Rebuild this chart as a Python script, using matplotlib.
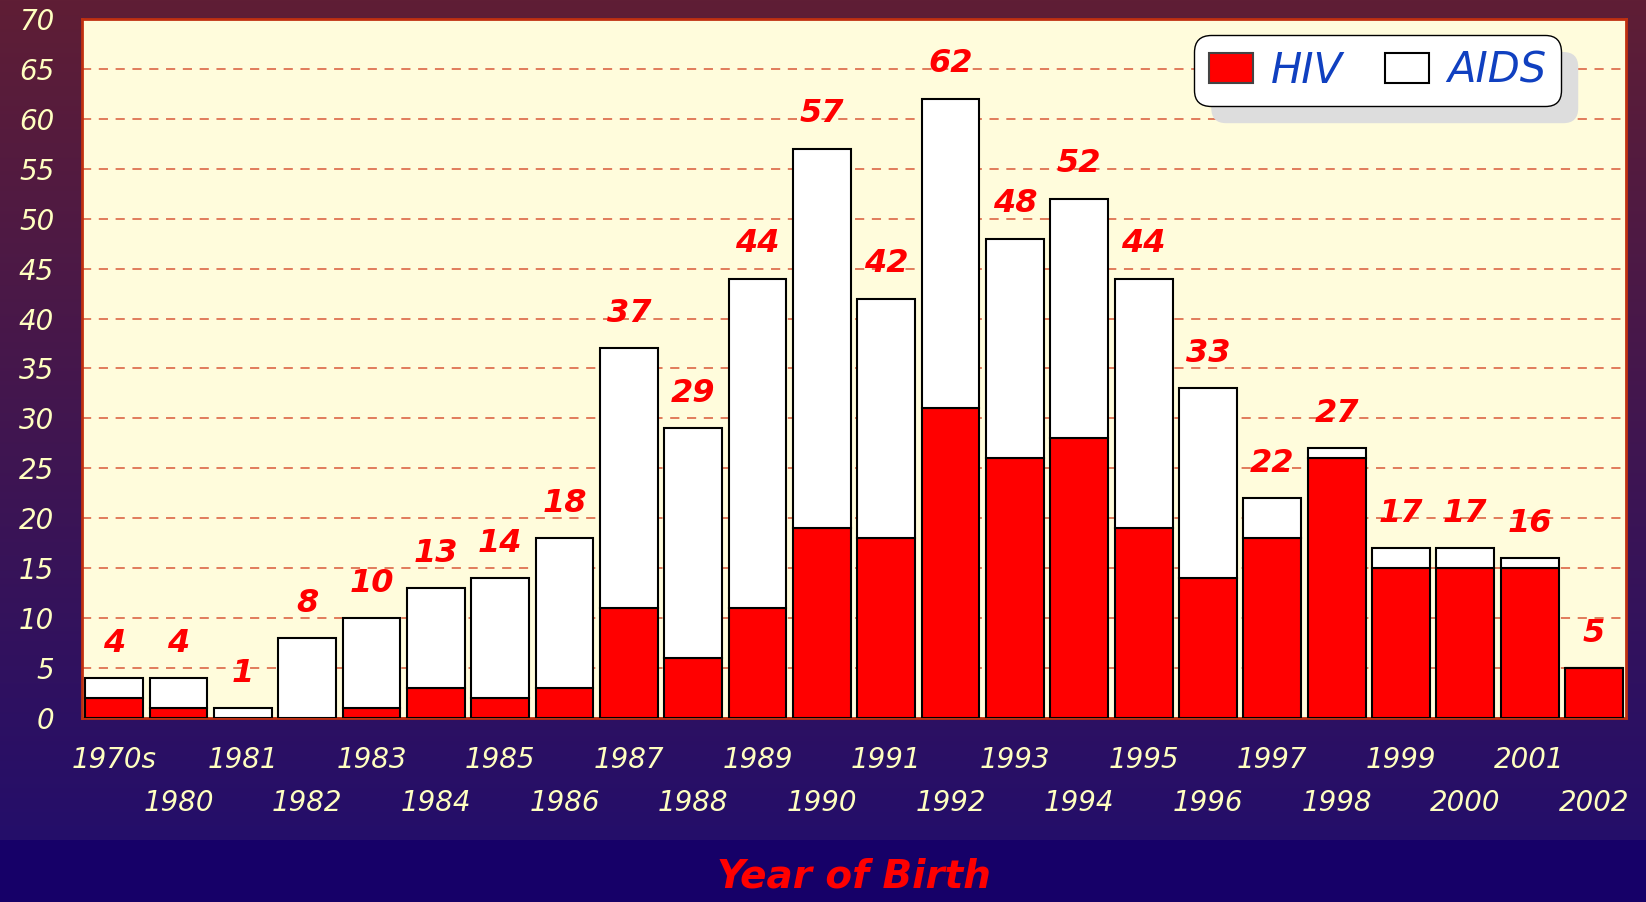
import numpy as np
import matplotlib
matplotlib.use("Agg")
import matplotlib.pyplot as plt
from matplotlib.patches import Patch, FancyBboxPatch
from matplotlib.transforms import IdentityTransform

years = ["1970s", "1980", "1981", "1982", "1983", "1984", "1985", "1986",
         "1987", "1988", "1989", "1990", "1991", "1992", "1993", "1994",
         "1995", "1996", "1997", "1998", "1999", "2000", "2001", "2002"]
hiv = [2, 1, 0, 0, 1, 3, 2, 3, 11, 6, 11, 19, 18, 31, 26, 28, 19, 14, 18, 26, 15, 15, 15, 5]
total = [4, 4, 1, 8, 10, 13, 14, 18, 37, 29, 44, 57, 42, 62, 48, 52, 44, 33, 22, 27, 17, 17, 16, 5]
aids = [t - h for t, h in zip(total, hiv)]

plt.rcParams['font.family'] = ['DejaVu Sans']

fig = plt.figure(figsize=(16.46, 9.02), dpi=100)

# background gradient: maroon at top to navy
H = 902
top = np.array([95, 30, 53]) / 255
mid = np.array([36, 14, 106]) / 255
bot = np.array([22, 0, 104]) / 255
rows = []
for y in range(H):
    if y < 840:
        f = y / 840
        rows.append(top * (1 - f) + mid * f)
    else:
        rows.append(bot)
grad = np.array(rows)[:, None, :]
bg = fig.add_axes([0, 0, 1, 1], zorder=-1)
bg.imshow(grad, aspect='auto', extent=[0, 1, 0, 1])
bg.axis('off')

ax = fig.add_axes([0.0498, 0.204, 0.9381, 0.775])
ax.set_facecolor('#fffcdc')

x = np.arange(len(years))
ax.bar(x, hiv, width=0.9, color='#ff0000', edgecolor='black', linewidth=1.5, zorder=3)
ax.bar(x, aids, width=0.9, bottom=hiv, color='white', edgecolor='black', linewidth=1.5, zorder=3)

for xi, t in zip(x, total):
    ax.annotate(str(t), (xi, t), xytext=(0, 14), textcoords='offset points',
                ha='center', va='bottom', color='#ff0000', fontsize=23,
                fontweight='bold', fontstyle='italic', zorder=4)

ax.set_xlim(-0.5, len(years) - 0.5)
ax.set_ylim(0, 70)
ax.set_yticks(range(0, 71, 5))
ax.yaxis.grid(True, linestyle=(0, (6, 5)), color='#d85838', linewidth=1.1, zorder=1)
ax.set_axisbelow(True)

ax.set_xticks(x[::2], years[::2])
ax.set_xticks(x[1::2], years[1::2], minor=True)
ax.tick_params(axis='x', which='major', length=0, pad=20, labelsize=20, labelcolor='#ffffc0')
ax.tick_params(axis='x', which='minor', length=0, pad=51, labelsize=20, labelcolor='#ffffc0')
ax.tick_params(axis='y', length=0, pad=20, labelsize=20, labelcolor='#ffffc0')
for lab in ax.get_xticklabels(which='both') + ax.get_yticklabels():
    lab.set_fontstyle('italic')

for s in ax.spines.values():
    s.set_color('#c03010')
    s.set_linewidth(2)

ax.set_xlabel("Year of Birth", color='#ff0000', fontsize=28, fontweight='bold',
              fontstyle='italic', labelpad=29)

handles = [Patch(facecolor='#ff0000', edgecolor='#444444', linewidth=1.5),
           Patch(facecolor='white', edgecolor='black', linewidth=1.5)]
leg = ax.legend(handles, ["HIV", "AIDS"], loc='upper right', bbox_to_anchor=(0.958, 0.977),
                ncol=2, fancybox=True, framealpha=1, facecolor='white', edgecolor='black',
                prop={'size': 30, 'style': 'italic'}, labelcolor='#1040c0',
                handlelength=1.05, handleheight=0.7, columnspacing=1.0,
                handletextpad=0.45, borderpad=0.35, borderaxespad=0)
leg.get_frame().set_boxstyle('round,pad=0,rounding_size=0.4')
leg.get_frame().set_linewidth(1)
leg.set_zorder(6)

fig.canvas.draw()
bb = leg.get_window_extent()
shadow = FancyBboxPatch((bb.x0 + 17, bb.y0 - 17), bb.width, bb.height,
                        boxstyle='round,pad=0,rounding_size=15',
                        facecolor='#dddddd', edgecolor='none',
                        transform=IdentityTransform(), zorder=5)
ax.add_artist(shadow)

fig.savefig("out.png", dpi=100)
